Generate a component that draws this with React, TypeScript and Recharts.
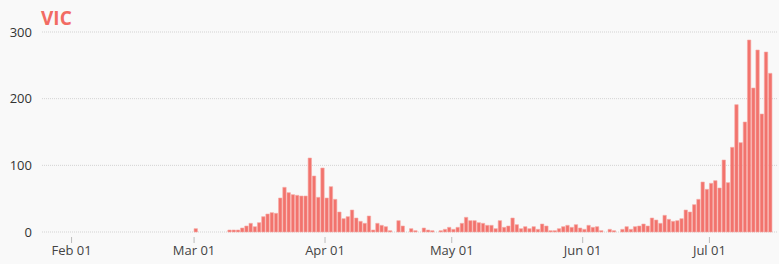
import { BarChart, Bar, XAxis, YAxis, CartesianGrid } from 'recharts'

// daily new cases, day 0 = Jan 25
const dailyCases = [
  0, 0, 0, 0, 0, 0, 0, 0, 0, 0,
  0, 0, 0, 0, 0, 0, 0, 0, 0, 0,
  0, 0, 0, 0, 0, 0, 0, 0, 0, 0,
  0, 0, 0, 0, 0, 0, 5, 0, 0, 0,
  0, 0, 0, 0, 3, 3, 3, 6, 9, 13,
  8, 14, 23, 27, 29, 28, 51, 67, 59, 56,
  55, 54, 54, 111, 84, 52, 96, 51, 68, 49,
  30, 20, 23, 33, 21, 16, 13, 24, 3, 13,
  10, 8, 2, 0, 17, 9, 0, 5, 2, 0,
  6, 3, 2, 0, 2, 4, 7, 4, 7, 13,
  22, 17, 17, 14, 13, 10, 10, 5, 17, 7,
  9, 21, 11, 5, 8, 5, 8, 4, 12, 9,
  2, 2, 5, 8, 10, 7, 11, 6, 4, 10,
  7, 8, 2, 0, 4, 2, 0, 4, 8, 4,
  8, 9, 12, 9, 21, 18, 13, 25, 19, 16,
  17, 20, 33, 30, 41, 49, 75, 64, 73, 77,
  66, 108, 74, 127, 191, 134, 165, 288, 216, 273,
  177, 270, 238,
]

const tickDays = [7, 36, 67, 97, 128, 158]
const tickLabels = ['Feb 01', 'Mar 01', 'Apr 01', 'May 01', 'Jun 01', 'Jul 01']
const yTicks = [0, 100, 200, 300]

const data = dailyCases.map((cases, i) => ({ day: i + 0.5, cases }))

const FONT = '"Open Sans", sans-serif'

function DateTick({ x, y, payload }: any) {
  const idx = tickDays.indexOf(payload.value)
  return (
    <g>
      <line x1={x} x2={x} y1={y + 5} y2={y + 11} stroke="#bbb" strokeWidth={1} />
      <text x={x} y={y + 23} textAnchor="middle" fontSize={13} fill="#444" fontFamily={FONT}>
        {idx >= 0 ? tickLabels[idx] : ''}
      </text>
    </g>
  )
}

export default function App() {
  return (
    <div style={{ position: 'absolute', left: 0, top: 0, width: 779, height: 264, background: '#f9f9f9' }}>
      <div
        style={{
          position: 'absolute',
          left: 41,
          top: 5,
          fontFamily: FONT,
          fontWeight: 700,
          fontSize: 19,
          color: '#f26b63',
        }}
      >
        VIC
      </div>
      <BarChart width={779} height={264} data={data} margin={{ top: 32, right: 2, left: 0, bottom: 0 }}>
        <CartesianGrid vertical={false} stroke="#d3d3d3" strokeDasharray="1 1" />
        <XAxis
          dataKey="day"
          type="number"
          domain={[0, 174]}
          ticks={tickDays}
          interval={0}
          height={32}
          axisLine={false}
          tickLine={false}
          tickSize={0}
          tickMargin={0}
          tick={<DateTick />}
        />
        <YAxis
          domain={[0, 300]}
          ticks={yTicks}
          width={42}
          axisLine={false}
          tickLine={false}
          tickMargin={4}
          tick={{ fontSize: 13, fill: '#333', fontFamily: FONT }}
        />
        <Bar
          dataKey="cases"
          fill="#f2736d"
          stroke="#f7aaa5"
          strokeWidth={0.6}
          barSize={3.4}
          isAnimationActive={false}
        />
      </BarChart>
    </div>
  )
}
